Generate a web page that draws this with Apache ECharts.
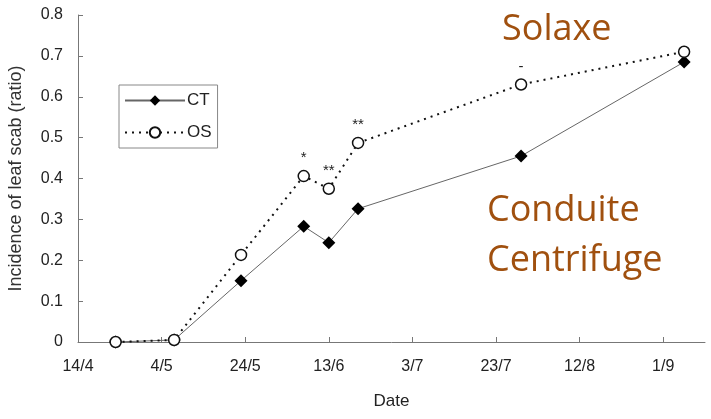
<!DOCTYPE html>
<html>
<head>
<meta charset="utf-8">
<script src="https://cdn.jsdelivr.net/npm/echarts@6/dist/echarts.min.js"></script>
<style>
  html, body { margin: 0; padding: 0; background: #fff; }
  #chart { width: 711px; height: 419px; }
</style>
</head>
<body>
<div id="chart"></div>
<script>
const chart = echarts.init(document.getElementById('chart'), null, { renderer: 'canvas' });

// days counted from 14/4
const tickDays = [0, 20, 40, 60, 80, 100, 120, 140];
const tickLabels = ['14/4', '4/5', '24/5', '13/6', '3/7', '23/7', '12/8', '1/9'];
const sampleDays = [9, 23, 39, 54, 60, 67, 106, 145];
const ctValues = [0, 0.005, 0.15, 0.283, 0.243, 0.326, 0.455, 0.685];
const osValues = [0, 0.005, 0.213, 0.406, 0.375, 0.487, 0.63, 0.71];
const osSig = ['', '', '', '*', '**', '**', '-', ''];

const brown = '#A0500F';
const axisGray = '#777';

function pairs(days, vals) {
    return days.map((d, i) => [d, vals[i]]);
}

chart.setOption({
    animation: false,
    grid: { left: 78, right: 6, top: 15, bottom: 77, outerBoundsMode: 'none' },
    legend: {
        left: 119,
        top: 85,
        orient: 'vertical',
        borderColor: '#888',
        borderWidth: 1,
        padding: [7, 6, 7, 5],
        itemWidth: 60,
        itemHeight: 13,
        itemGap: 15,
        textStyle: { fontSize: 17, color: '#222', fontFamily: 'Liberation Sans', padding: [0, 0, 0, -3] },
        data: ['CT', 'OS']
    },
    xAxis: {
        type: 'value',
        min: 0,
        max: 150,
        interval: 20,
        name: 'Date',
        nameLocation: 'middle',
        nameGap: 51,
        nameTextStyle: { fontSize: 17, color: '#222', fontFamily: 'Liberation Sans' },
        splitLine: { show: false },
        axisLine: { lineStyle: { color: axisGray, width: 1 } },
        axisTick: {
            inside: true,
            length: 5,
            customValues: tickDays,
            lineStyle: { color: axisGray }
        },
        axisLabel: {
            customValues: tickDays,
            margin: 17,
            fontSize: 16,
            color: '#222',
            fontFamily: 'Liberation Sans',
            formatter: v => tickLabels[tickDays.indexOf(v)] || ''
        }
    },
    yAxis: {
        type: 'value',
        min: 0,
        max: 0.8,
        interval: 0.1,
        name: 'Incidence of leaf scab (ratio)',
        nameLocation: 'middle',
        nameGap: 53,
        nameTextStyle: { fontSize: 18, color: '#333', fontFamily: 'Liberation Sans' },
        splitLine: { show: false },
        axisLine: { show: true, lineStyle: { color: axisGray, width: 1 } },
        axisTick: { show: true, inside: true, length: 5, lineStyle: { color: axisGray } },
        axisLabel: {
            margin: 15,
            fontSize: 16,
            color: '#222',
            fontFamily: 'Liberation Sans',
            formatter: v => (Math.round(v * 10) / 10).toString()
        }
    },
    series: [
        {
            name: 'CT',
            type: 'line',
            data: pairs(sampleDays, ctValues),
            symbol: 'diamond',
            symbolSize: 13,
            itemStyle: { color: '#000' },
            lineStyle: { color: '#666', width: 1 },
            z: 2
        },
        {
            name: 'OS',
            type: 'line',
            data: pairs(sampleDays, osValues),
            symbol: 'circle',
            symbolSize: 11,
            showAllSymbol: true,
            itemStyle: { color: '#fff', borderColor: '#111', borderWidth: 1.5 },
            lineStyle: { color: '#111', width: 2, type: [2, 5] },
            label: {
                show: true,
                position: 'top',
                distance: 4,
                fontSize: 15,
                color: '#222',
                formatter: p => osSig[p.dataIndex]
            },
            z: 3
        }
    ],
    graphic: [
        {
            type: 'text', left: 502, top: 12,
            style: { text: 'Solaxe', fontSize: 36, fill: brown, fontFamily: 'Open Sans' }
        },
        {
            type: 'text', left: 487, top: 186,
            style: { text: 'Conduite\nCentrifuge', fontSize: 36, lineHeight: 50, fill: brown, fontFamily: 'Open Sans' }
        }
    ]
});
</script>
</body>
</html>
